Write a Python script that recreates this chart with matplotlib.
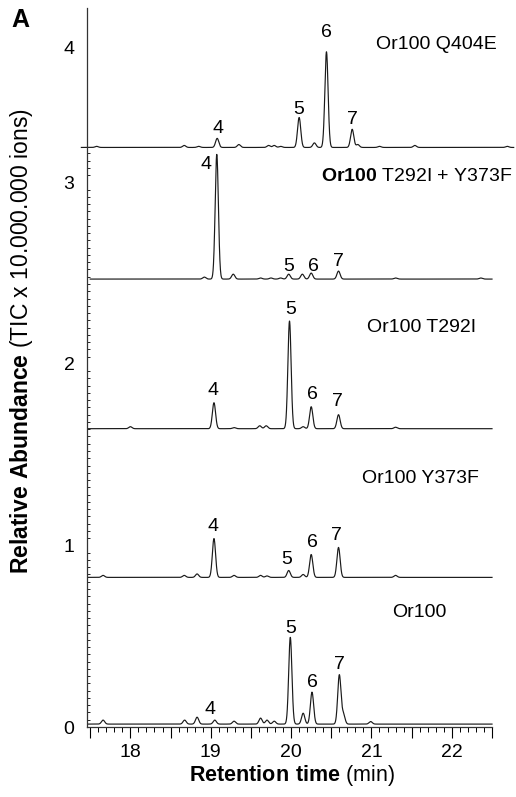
import numpy as np
import matplotlib
matplotlib.use("Agg")
import matplotlib.pyplot as plt
from matplotlib.ticker import FixedLocator, MultipleLocator

plt.rcParams['font.family'] = ['Liberation Sans', 'DejaVu Sans']
plt.rcParams['mathtext.fontset'] = 'custom'
plt.rcParams['mathtext.rm'] = 'Liberation Sans'
plt.rcParams['mathtext.bf'] = 'Liberation Sans:bold'

# peak tables: retention time (min) and height (TIC x 10^7)
or100_base = 0.016
or100_rt = [17.66, 18.675, 18.83, 19.05, 19.29, 19.62, 19.70, 19.79, 19.99, 20.15, 20.26, 20.60, 20.65, 20.99]
or100_h = [0.022, 0.022, 0.038, 0.022, 0.016, 0.033, 0.022, 0.016, 0.478, 0.06, 0.176, 0.27, 0.055, 0.014]

y373f_base = 0.824
y373f_rt = [17.66, 18.67, 18.83, 19.04, 19.29, 19.62, 19.70, 19.97, 20.15, 20.25, 20.59, 21.30]
y373f_h = [0.011, 0.011, 0.019, 0.214, 0.011, 0.011, 0.008, 0.038, 0.016, 0.126, 0.165, 0.011]

t292i_base = 1.643
t292i_rt = [18.0, 19.04, 19.29, 19.61, 19.69, 19.98, 20.15, 20.25, 20.59, 21.30]
t292i_h = [0.011, 0.143, 0.006, 0.016, 0.016, 0.593, 0.011, 0.121, 0.077, 0.008]

double_base = 2.467
double_rt = [18.92, 19.075, 19.28, 19.62, 19.75, 19.87, 19.97, 20.14, 20.25, 20.59, 21.30, 22.36]
double_h = [0.011, 0.687, 0.027, 0.006, 0.006, 0.006, 0.027, 0.027, 0.033, 0.044, 0.006, 0.006]

q404e_base = 3.192
q404e_rt = [17.58, 18.67, 18.85, 19.08, 19.35, 19.72, 19.79, 19.87, 20.10, 20.29, 20.44, 20.76, 20.83, 21.10, 21.54, 22.69]
q404e_h = [0.006, 0.011, 0.006, 0.05, 0.016, 0.011, 0.011, 0.006, 0.165, 0.025, 0.527, 0.10, 0.016, 0.006, 0.011, 0.006]

# peak number labels: (text, x, y)
or100_labels = [("4", 18.996, 0.099), ("5", 20.0, 0.544), ("6", 20.26, 0.243), ("7", 20.60, 0.346)]
y373f_labels = [("4", 19.025, 1.106), ("5", 19.95, 0.923), ("6", 20.26, 1.016), ("7", 20.57, 1.055)]
t292i_labels = [("4", 19.025, 1.852), ("5", 19.99, 2.302), ("6", 20.26, 1.83), ("7", 20.575, 1.793)]
double_labels = [("4", 18.94, 3.099), ("5", 19.975, 2.538), ("6", 20.28, 2.538), ("7", 20.59, 2.566)]
q404e_labels = [("4", 19.09, 3.297), ("5", 20.10, 3.40), ("6", 20.44, 3.824), ("7", 20.76, 3.346)]

traces = [
    ("Or100", or100_base, or100_rt, or100_h, or100_labels, (17.47, 22.5), (21.59, 0.628)),
    ("Or100 Y373F", y373f_base, y373f_rt, y373f_h, y373f_labels, (17.47, 22.5), (21.61, 1.368)),
    ("Or100 T292I", t292i_base, t292i_rt, t292i_h, t292i_labels, (17.47, 22.5), (21.625, 2.198)),
    (r"$\bf{Or100}$ T292I + Y373F", double_base, double_rt, double_h, double_labels, (17.5, 22.5), (21.56, 3.033)),
    ("Or100 Q404E", q404e_base, q404e_rt, q404e_h, q404e_labels, (17.39, 22.77), (21.81, 3.758)),
]

sigma = 0.02

fig = plt.figure(figsize=(5.16, 7.97), dpi=100)
ax = fig.add_axes([87 / 516, 70 / 797, 405 / 516, 719 / 797])

for name, base, rts, hs, labels, xr, title_pos in traces:
    x = np.linspace(xr[0], xr[1], 3000)
    y = np.full_like(x, base)
    for rt, h in zip(rts, hs):
        y += h * np.exp(-0.5 * ((x - rt) / sigma) ** 2)
    ax.plot(x, y, color='#1a1a1a', lw=0.85, clip_on=False)
    for txt, lx, ly in labels:
        ax.text(lx, ly, txt, fontsize=14, ha='center', va='center')
    ax.text(title_pos[0], title_pos[1], name, fontsize=14, ha='center', va='center')

ax.set_xlim(17.46, 22.5)
ax.set_ylim(0, 3.96)

ax.spines['top'].set_visible(False)
ax.spines['right'].set_visible(False)
for s in ['left', 'bottom']:
    ax.spines[s].set_color('#333333')
    ax.spines[s].set_linewidth(0.9)

ax.xaxis.set_minor_locator(MultipleLocator(0.1))
ax.set_xticks([17.5, 18, 18.5, 19, 19.5, 20, 20.5, 21, 21.5, 22, 22.5])
ax.set_xticklabels(['', '18', '', '19', '', '20', '', '21', '', '22', ''])
ax.tick_params(axis='x', which='major', length=8, width=0.8, direction='out', labelsize=14, pad=4)
ax.tick_params(axis='x', which='minor', length=3.5, width=0.7, direction='out')

ax.set_yticks([0, 1, 2, 3, 3.74])
ax.set_yticklabels(['0', '1', '2', '3', '4'])
ax.yaxis.set_minor_locator(FixedLocator(np.arange(0.04, 3.19, 0.04)))
ax.tick_params(axis='y', which='major', length=0, labelsize=14, pad=9)
ax.tick_params(axis='y', which='minor', length=2, width=0.6, direction='in')

fig.text(22 / 516, 1 - 341 / 797, r"$\bf{Relative\ Abundance}$ (TIC x 10.000.000 ions)",
         rotation=90, ha='center', va='center', fontsize=16.5)
fig.text(292 / 516, 1 - 775 / 797, r"$\bf{Retention\ time}$ (min)",
         ha='center', va='center', fontsize=15.5)
fig.text(20 / 516, 1 - 20 / 797, "A", fontsize=18, fontweight='bold', ha='center', va='center')

fig.savefig("out.png", dpi=100)
